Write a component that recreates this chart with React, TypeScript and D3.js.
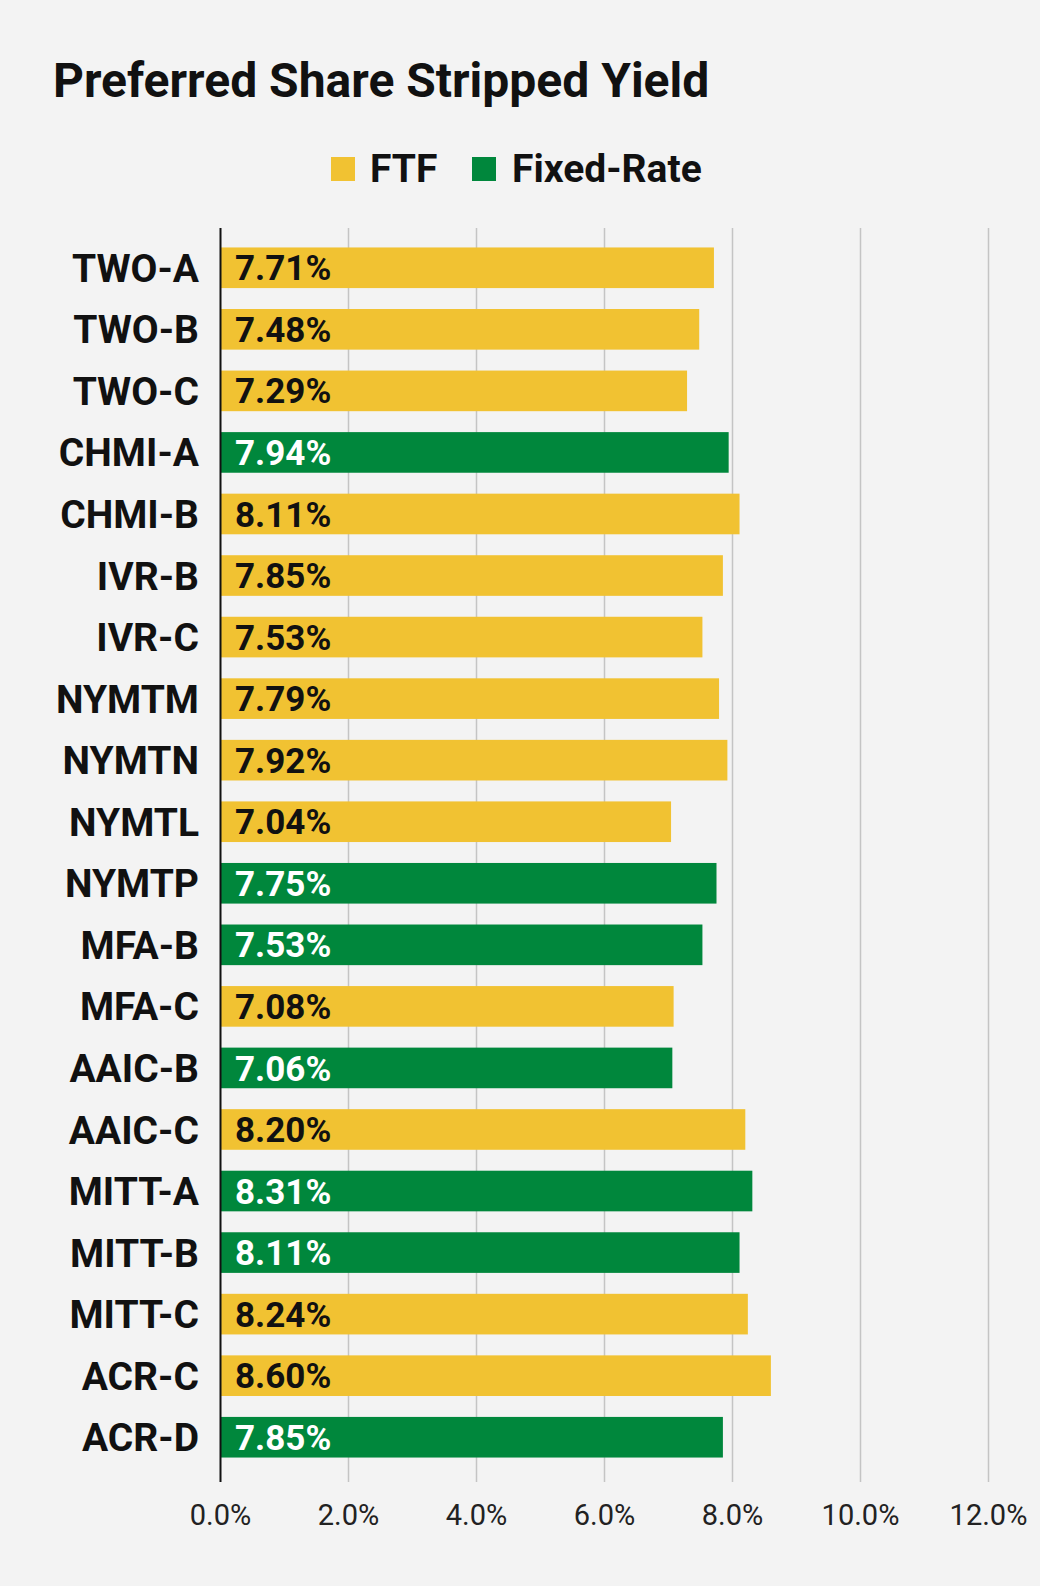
import React from "react";
import * as d3 from "d3";

const categories = ["TWO-A","TWO-B","TWO-C","CHMI-A","CHMI-B","IVR-B","IVR-C","NYMTM","NYMTN","NYMTL","NYMTP","MFA-B","MFA-C","AAIC-B","AAIC-C","MITT-A","MITT-B","MITT-C","ACR-C","ACR-D"];
const values = [7.71,7.48,7.29,7.94,8.11,7.85,7.53,7.79,7.92,7.04,7.75,7.53,7.08,7.06,8.20,8.31,8.11,8.24,8.60,7.85];
const types = ["FTF","FTF","FTF","Fixed","FTF","FTF","FTF","FTF","FTF","FTF","Fixed","Fixed","FTF","Fixed","FTF","Fixed","Fixed","FTF","FTF","Fixed"];
const ticks = [0,2,4,6,8,10,12];
const YELLOW = "#f1c232", GREEN = "#00873c";

export default function App() {
  const W = 1040, H = 1586;
  const x = d3.scaleLinear().domain([0, 12]).range([220.5, 988.5]);
  const y = d3.scaleBand().domain(categories).range([237, 1468]).paddingInner(0.34).paddingOuter(0.17);
  const font = "Roboto, sans-serif";
  return (
    <svg width={W} height={H} style={{ position: "absolute", left: 0, top: 0, background: "#f3f3f3" }} fontFamily={font}>
      <rect width={W} height={H} fill="#f3f3f3" />
      <text x={53} y={97} fontSize={48} fontWeight="bold" fill="#111">Preferred Share Stripped Yield</text>
      <rect x={331} y={157} width={24} height={24} fill={YELLOW} />
      <text x={370} y={182} fontSize={39} fontWeight="bold" fill="#111">FTF</text>
      <rect x={472} y={157} width={24} height={24} fill={GREEN} />
      <text x={512} y={182} fontSize={39} fontWeight="bold" fill="#111">Fixed-Rate</text>
      {ticks.slice(1).map(t => (
        <line key={t} x1={x(t)} x2={x(t)} y1={228} y2={1482} stroke="#c4c4c4" strokeWidth={1.5} />
      ))}
      {categories.map((c, i) => {
        const yy = y(c)!, bh = y.bandwidth();
        const fixed = types[i] === "Fixed";
        return (
          <g key={c}>
            <rect x={x(0)} y={yy} width={x(values[i]) - x(0)} height={bh} fill={fixed ? GREEN : YELLOW} />
            <text x={235} y={yy + bh / 2} dy="0.36em" fontSize={35} fontWeight="bold" fill={fixed ? "#fff" : "#111"}>{values[i].toFixed(2)}%</text>
            <text x={199} y={yy + bh / 2} dy="0.36em" fontSize={39} fontWeight="bold" textAnchor="end" fill="#111">{c}</text>
          </g>
        );
      })}
      <line x1={x(0)} x2={x(0)} y1={228} y2={1482} stroke="#111" strokeWidth={2} />
      {ticks.map(t => (
        <text key={t} x={x(t)} y={1525} fontSize={29} textAnchor="middle" fill="#222">{t.toFixed(1)}%</text>
      ))}
    </svg>
  );
}
